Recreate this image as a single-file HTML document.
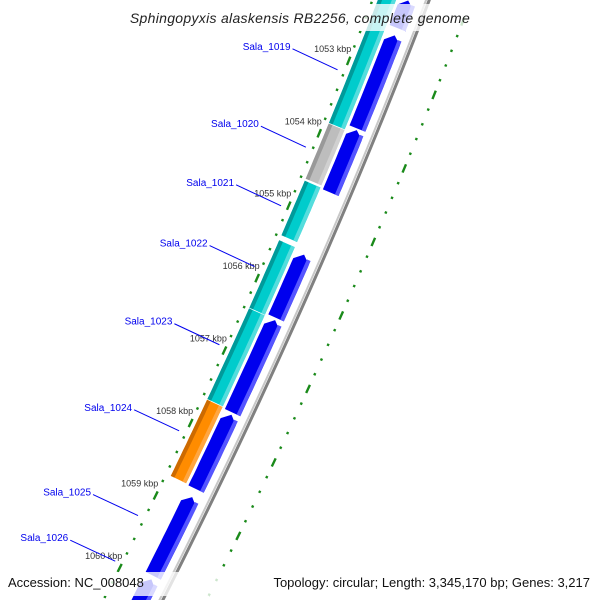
<!DOCTYPE html>
<html><head><meta charset="utf-8"><style>
html,body{margin:0;padding:0;background:#fff;overflow:hidden;width:600px;height:600px;}
svg{display:block;font-family:"Liberation Sans","DejaVu Sans",sans-serif;}
</style></head><body>
<svg id="map" width="600" height="600" viewBox="0 0 600 600" xmlns="http://www.w3.org/2000/svg">
<g id="g-track"></g>
<g id="g-ticks"></g>
<g id="g-labels"></g>
<rect x="110" y="4" width="380" height="27" fill="#fff" fill-opacity="0.78"/>
<text x="300" y="23" text-anchor="middle" font-size="14" font-style="italic" fill="#222" letter-spacing="0.3">Sphingopyxis alaskensis RB2256, complete genome</text>
<rect x="0" y="572" width="600" height="24" fill="#fff" fill-opacity="0.78"/>
<text x="8" y="587" font-size="13" fill="#111">Accession: NC_008048</text>
<text x="590" y="587" text-anchor="end" font-size="13" fill="#111">Topology: circular; Length: 3,345,170 bp; Genes: 3,217</text>
</svg>
<script>
// ---- data (kbp) ----
const blueStarts = [1052.0, 1052.48, 1053.78, 1055.49, 1056.39, 1057.69, 1058.82, 1059.95];
const blueEnds   = [1052.38, 1053.76, 1054.64, 1056.36, 1057.66, 1058.71, 1059.90, 1061.5];
const cogStarts  = [1052.0, 1053.84, 1054.63, 1055.45, 1056.39, 1057.65];
const cogEnds    = [1053.83, 1054.60, 1055.38, 1056.38, 1057.64, 1058.70];
const cogKinds   = ["cyan","gray","cyan","cyan","cyan","orange"];
const tickKbp    = [1053, 1054, 1055, 1056, 1057, 1058, 1059, 1060];
const tickLabels = ["1053 kbp","1054 kbp","1055 kbp","1056 kbp","1057 kbp","1058 kbp","1059 kbp","1060 kbp"];
const geneNames  = ["Sala_1019","Sala_1020","Sala_1021","Sala_1022","Sala_1023","Sala_1024","Sala_1025","Sala_1026"];
const geneLabelKbp = [1053.16, 1054.23, 1055.04, 1055.88, 1056.96, 1058.15, 1059.32, 1059.95];

// ---- axis functions ----
const NS="http://www.w3.org/2000/svg";
function sOf(k){return 79+73*(k-1053);}
function X(s){return 425-0.382*s-0.000104*s*s;}
function dX(s){return -0.382-0.000208*s;}
function pt(s,d){const dx=dX(s);const L=Math.sqrt(1+dx*dx);return [X(s)+d/L, s-dx*d/L];}
function mk(tag,attrs,parent){const e=document.createElementNS(NS,tag);for(const k in attrs)e.setAttribute(k,attrs[k]);parent.appendChild(e);return e;}
function band(s1,s2,d1,d2,arrow){
  const a=[],b=[];const n=12;
  let sa=s1; if(arrow) sa=s1+7;
  for(let i=0;i<=n;i++){const s=sa+(s2-sa)*i/n;a.push(pt(s,d1));b.push(pt(s,d2));}
  let pts=a.concat(b.reverse());
  if(arrow) pts.push(pt(s1,(d1+d2)/2));
  return pts.map(p=>p[0].toFixed(1)+","+p[1].toFixed(1)).join(" ");
}
const gT=document.getElementById('g-track'),gK=document.getElementById('g-ticks'),gL=document.getElementById('g-labels');

// backbone
let bb1=[],bb2=[];
for(let s=-20;s<=640;s+=10){bb1.push(pt(s,1));bb2.push(pt(s,4));}
const p1=mk('polyline',{points:bb1.map(p=>p.join(",")).join(" "),fill:"none",stroke:"#c8c8c8","stroke-width":2},gT);


const p2=mk('polyline',{points:bb2.map(p=>p.join(",")).join(" "),fill:"none",stroke:"#808080","stroke-width":3},gT);



// blue genes
for(let i=0;i<blueStarts.length;i++){
  const s1=sOf(blueStarts[i]),s2=sOf(blueEnds[i]);
  const g=mk('polygon',{points:band(s1,s2,-24,-7,true),fill:"#0000ee"},gT);
  
  
  const h=mk('polygon',{points:band(s1+3,s2,-11,-7,false),fill:"#5555ff"},gT);
  
  
}
// COG track
const cols={cyan:["#00cccc","#009a9a","#55dddd"],gray:["#bdbdbd","#999","#d0d0d0"],orange:["#ff8c00","#cc6a00","#ffa640"]};
for(let i=0;i<cogStarts.length;i++){
  const s1=sOf(cogStarts[i]),s2=sOf(cogEnds[i]);const c=cols[cogKinds[i]];
  const g=mk('polygon',{points:band(s1,s2,-44,-27,false),fill:c[0]},gT);
  
  
  const d=mk('polygon',{points:band(s1,s2,-44,-40,false),fill:c[1]},gT);
  
  
  const l=mk('polygon',{points:band(s1,s2,-31,-27,false),fill:c[2]},gT);
  
  
}
// rulers
for(let k=10520;k<=10610;k+=2){
  const kb=k/10;const s=sOf(kb);const major=(k%10===0);
  [-49,43].forEach(function(d){
    const dx=dX(s);const L=Math.sqrt(1+dx*dx);const tx=dx/L,ty=1/L;const len=major?4.5:1.2;
    const c=pt(s,d);
    const t=mk('line',{x1:c[0]-tx*len,y1:c[1]-ty*len,x2:c[0]+tx*len,y2:c[1]+ty*len,stroke:"#1a8a1a","stroke-width":2.4},gK);
    
    
  });
}
for(let i=0;i<tickKbp.length;i++){
  const c=pt(sOf(tickKbp[i]),-49);
  const t=mk('text',{x:(c[0]-16).toFixed(1),y:(c[1]-9).toFixed(1),"text-anchor":"middle","font-size":"9",fill:"#333"},gK);
  t.textContent=tickLabels[i];
  
  
}
// gene labels
for(let i=0;i<geneNames.length;i++){
  const c=pt(sOf(geneLabelKbp[i]),-56);
  const lx=c[0]-47,ly=c[1]-21;
  const ln=mk('line',{x1:lx+2,y1:ly,x2:c[0],y2:c[1],stroke:"#0000ee","stroke-width":1},gL);
  
  
  const t=mk('text',{x:lx,y:ly+1,"text-anchor":"end","font-size":"10",fill:"#0000ee"},gL);
  t.textContent=geneNames[i];
  
  
}
</script>
</body></html>
